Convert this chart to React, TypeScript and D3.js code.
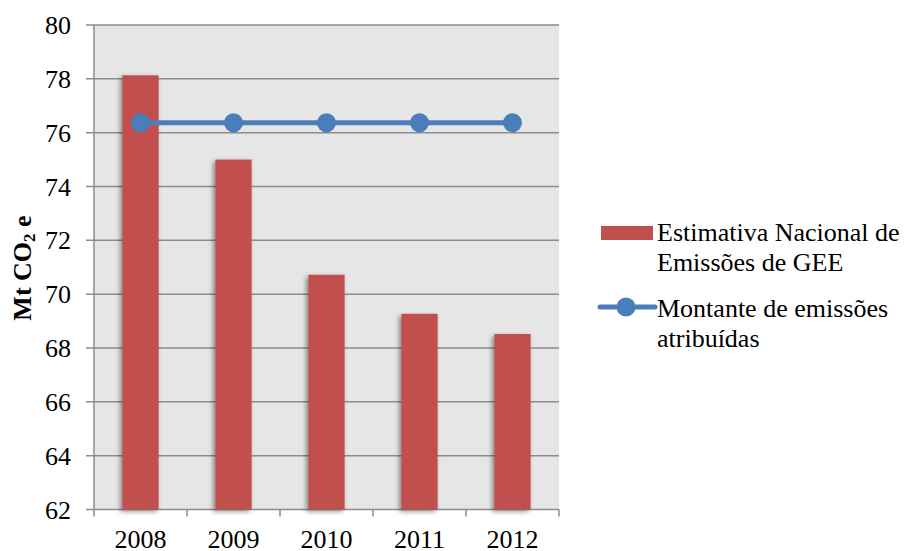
import React from "react";
import * as d3 from "d3";

const years = ["2008", "2009", "2010", "2011", "2012"];
const estimativa = [78.13, 75.0, 70.72, 69.27, 68.52];
const montante = [76.37, 76.37, 76.37, 76.37, 76.37];
const yTicks = [62, 64, 66, 68, 70, 72, 74, 76, 78, 80];

const W = 908;
const H = 551;
const left = 94;
const right = 559;
const top = 25;
const bottom = 509.5;
const font = "Liberation Serif, Times New Roman, serif";

type LabelProps = {
  x: number;
  y: number;
  anchor?: "start" | "middle" | "end";
  size?: number;
  children: React.ReactNode;
};

function Label({ x, y, anchor = "start", size = 26, children }: LabelProps) {
  return (
    <text x={x} y={y} textAnchor={anchor} fontFamily={font} fontSize={size} fill="#000">
      {children}
    </text>
  );
}

export default function App() {
  const x = d3.scaleBand<string>().domain(years).range([left, right]).paddingInner(0.61).paddingOuter(0.305);
  const xc = d3.scaleBand<string>().domain(years).range([left, right]);
  const y = d3.scaleLinear().domain([62, 80]).range([bottom, top]);
  const cx = (i: number) => (xc(years[i]) as number) + xc.bandwidth() / 2;
  const line = d3
    .line<number>()
    .x((_, i) => cx(i))
    .y((d) => y(d));

  const grid = "#8c8c8c";
  const blue = "#4a7ebb";
  const red = "#c0504d";

  return (
    <svg width={W} height={H} style={{ position: "absolute", left: 0, top: 0, background: "#fff" }}>
      <defs>
        <filter id="barShadow" x="-30%" y="-10%" width="160%" height="120%">
          <feGaussianBlur in="SourceAlpha" stdDeviation="2.5" />
          <feOffset dx="-2" dy="2" result="b" />
          <feComponentTransfer>
            <feFuncA type="linear" slope="0.45" />
          </feComponentTransfer>
          <feMerge>
            <feMergeNode />
            <feMergeNode in="SourceGraphic" />
          </feMerge>
        </filter>
      </defs>

      {/* plot background */}
      <rect x={left} y={top} width={right - left} height={bottom - top} fill="#e6e6e6" />

      {/* horizontal gridlines and y tick labels */}
      {yTicks.map((t) => (
        <g key={t}>
          <line x1={left - 8} x2={right} y1={y(t)} y2={y(t)} stroke={grid} strokeWidth={1.5} />
          <Label x={71} y={y(t) + 9} anchor="end">
            {t}
          </Label>
        </g>
      ))}

      {/* y axis line */}
      <line x1={left} x2={left} y1={top} y2={bottom} stroke={grid} strokeWidth={1.5} />

      {/* x axis ticks at category boundaries */}
      {[...years.map((yr) => xc(yr) as number), right].map((px, i) => (
        <line key={i} x1={px} x2={px} y1={bottom} y2={bottom + 7} stroke={grid} strokeWidth={1.5} />
      ))}

      {/* bars */}
      {years.map((yr, i) => (
        <rect
          key={yr}
          x={x(yr)}
          y={y(estimativa[i])}
          width={x.bandwidth()}
          height={y(62) - y(estimativa[i])}
          fill={red}
          filter="url(#barShadow)"
        />
      ))}

      {/* line series */}
      <path d={line(montante) || ""} fill="none" stroke={blue} strokeWidth={5} />
      {montante.map((v, i) => (
        <circle key={i} cx={cx(i)} cy={y(v)} r={9.5} fill={blue} />
      ))}

      {/* x labels */}
      {years.map((yr, i) => (
        <Label key={yr} x={cx(i)} y={548} anchor="middle">
          {yr}
        </Label>
      ))}

      {/* y axis title */}
      <text
        transform={`translate(31, ${268}) rotate(-90)`}
        textAnchor="middle"
        fontFamily={font}
        fontSize={26}
        fontWeight="bold"
        fill="#000"
      >
        Mt CO<tspan fontSize={17} dy={4}>2</tspan>
        <tspan dy={-4}> e</tspan>
      </text>

      {/* legend */}
      <rect x={601} y={226} width={52} height={14} fill={red} />
      <Label x={657} y={241}>Estimativa Nacional de</Label>
      <Label x={657} y={271}>Emissões de GEE</Label>
      <line x1={600} x2={655} y1={307} y2={307} stroke={blue} strokeWidth={5} strokeLinecap="round" />
      <circle cx={626} cy={307} r={9.5} fill={blue} />
      <Label x={657} y={317}>Montante de emissões</Label>
      <Label x={657} y={347}>atribuídas</Label>
    </svg>
  );
}
